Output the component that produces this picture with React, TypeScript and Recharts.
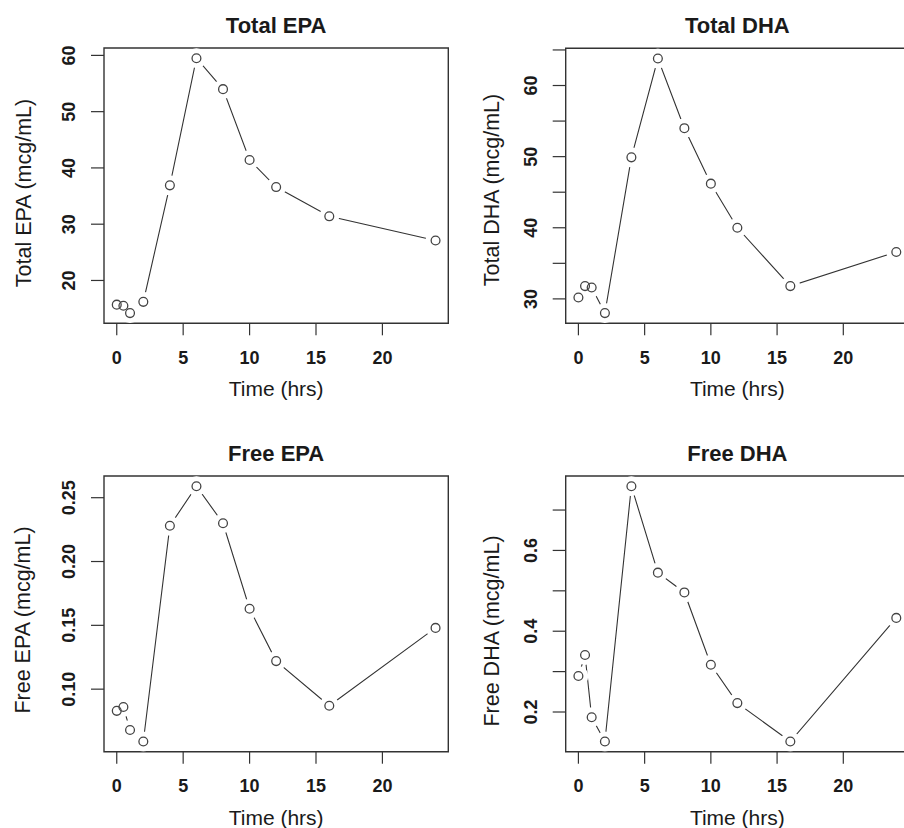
import { LineChart, Line, XAxis, YAxis, ReferenceArea } from 'recharts';

// sampling times (hrs)
const hours = [0, 0.5, 1, 2, 4, 6, 8, 10, 12, 16, 24];

// concentrations (mcg/mL)
const totalEPA = [15.7, 15.5, 14.2, 16.2, 36.9, 59.5, 54.0, 41.4, 36.6, 31.4, 27.1];
const totalDHA = [30.2, 31.8, 31.6, 28.0, 49.9, 63.8, 54.0, 46.2, 40.0, 31.8, 36.6];
const freeEPA = [0.083, 0.086, 0.068, 0.059, 0.228, 0.259, 0.23, 0.163, 0.122, 0.087, 0.148];
const freeDHA = [0.289, 0.341, 0.187, 0.127, 0.759, 0.545, 0.496, 0.317, 0.222, 0.127, 0.433];

// axis ticks
const xTicks = [0, 5, 10, 15, 20];
const totalEPATicks = [20, 30, 40, 50, 60];
const totalDHATicks = [30, 35, 40, 45, 50, 55, 60, 65];
const totalDHALabels = [30, 40, 50, 60];
const freeEPATicks = [0.1, 0.15, 0.2, 0.25];
const freeDHATicks = [0.2, 0.3, 0.4, 0.5, 0.6, 0.7];
const freeDHALabels = [0.2, 0.4, 0.6];

const FONT = '"Liberation Sans", Arial, Helvetica, sans-serif';
const INK = '#1a1a1a';
const X_DOMAIN: [number, number] = [-0.96, 24.96];

// R style: pad the data range by 4% on each side
const padded = (vals: number[]): [number, number] => {
  const lo = Math.min(...vals);
  const hi = Math.max(...vals);
  const d = (hi - lo) * 0.04;
  return [lo - d, hi + d];
};

interface PanelProps {
  title: string;
  yLabel: string;
  values: number[];
  yTicks: number[];
  yLabels: number[];
  digits: number;
  left: number;
  top: number;
  width: number;
  height: number;
  boxLeft: number;
  boxTop: number;
  boxRight: number;
  boxBottom: number;
  yTitleX: number;
  yTitleY: number;
}

const Panel = (p: PanelProps) => {
  const data = hours.map((t, i) => ({ t, v: p.values[i] }));
  const [y0, y1] = padded(p.values);
  const xh = 78;
  const margin = {
    top: p.boxTop,
    left: 0,
    right: p.width - p.boxRight,
    bottom: p.height - p.boxBottom - xh,
  };
  const boxCx = (p.boxLeft + p.boxRight) / 2;

  const yTick = (props: any) => {
    const { x, y, payload } = props;
    const val = payload.value;
    const show = p.yLabels.some((l) => Math.abs(l - val) < 1e-9);
    if (!show) return <g />;
    return (
      <text
        x={x}
        y={y}
        transform={`rotate(-90 ${x} ${y})`}
        textAnchor="middle"
        fontSize={18}
        fontWeight="bold"
        fontFamily={FONT}
        fill={INK}
      >
        {val.toFixed(p.digits)}
      </text>
    );
  };

  return (
    <div style={{ position: 'absolute', left: p.left, top: p.top }}>
      <LineChart width={p.width} height={p.height} data={data} margin={margin}>
        <XAxis
          type="number"
          dataKey="t"
          domain={X_DOMAIN}
          ticks={xTicks}
          allowDataOverflow
          axisLine={false}
          tickLine={{ stroke: '#333', strokeWidth: 1.2 }}
          tickSize={12}
          tickMargin={16}
          height={xh}
          tick={{ fontSize: 18, fontWeight: 'bold', fontFamily: FONT, fill: INK }}
          label={() => (
            <text
              x={boxCx}
              y={p.boxBottom + 73}
              textAnchor="middle"
              fontSize={21}
              fontFamily={FONT}
              fill={INK}
            >
              Time (hrs)
            </text>
          )}
        />
        <YAxis
          type="number"
          domain={[y0, y1]}
          ticks={p.yTicks}
          allowDataOverflow
          width={p.boxLeft}
          axisLine={false}
          tickLine={{ stroke: '#333', strokeWidth: 1.2 }}
          tickSize={13}
          tickMargin={16}
          tick={yTick}
          label={() => (
            <text
              x={p.yTitleX}
              y={p.yTitleY}
              transform={`rotate(-90 ${p.yTitleX} ${p.yTitleY})`}
              textAnchor="middle"
              fontSize={21.5}
              fontFamily={FONT}
              fill={INK}
            >
              {p.yLabel}
            </text>
          )}
        />
        {/* connecting line, with white discs that open a gap round each point */}
        <Line
          dataKey="v"
          stroke="#333"
          strokeWidth={1.1}
          isAnimationActive={false}
          activeDot={false}
          dot={(d: any) => (
            <circle key={`m-${d.index}`} cx={d.cx} cy={d.cy} r={10} fill="#fff" stroke="none" />
          )}
        />
        {/* open circles */}
        <Line
          dataKey="v"
          stroke="none"
          isAnimationActive={false}
          activeDot={false}
          dot={(d: any) => (
            <circle
              key={`c-${d.index}`}
              cx={d.cx}
              cy={d.cy}
              r={4.4}
              fill="none"
              stroke="#444"
              strokeWidth={1.3}
            />
          )}
        />
        <ReferenceArea
          x1={X_DOMAIN[0]}
          x2={X_DOMAIN[1]}
          y1={y0}
          y2={y1}
          fill="none"
          stroke="#333"
          strokeWidth={1.4}
          fillOpacity={0}
          ifOverflow="visible"
          label={{
            value: p.title,
            position: 'top',
            offset: 15.5,
            fontSize: 22,
            fontWeight: 'bold',
            fontFamily: FONT,
            fill: INK,
          }}
        />
      </LineChart>
    </div>
  );
};

export default function App() {
  return (
    <div
      style={{
        position: 'absolute',
        left: 0,
        top: 0,
        width: 904,
        height: 828,
        overflow: 'hidden',
        background: '#fff',
      }}
    >
      <Panel
        title="Total EPA"
        yLabel="Total EPA (mcg/mL)"
        values={totalEPA}
        yTicks={totalEPATicks}
        yLabels={totalEPATicks}
        digits={0}
        left={0}
        top={0}
        width={452}
        height={400}
        boxLeft={104}
        boxTop={48}
        boxRight={448.3}
        boxBottom={323.3}
        yTitleX={30.5}
        yTitleY={193}
      />
      <Panel
        title="Total DHA"
        yLabel="Total DHA (mcg/mL)"
        values={totalDHA}
        yTicks={totalDHATicks}
        yLabels={totalDHALabels}
        digits={0}
        left={452}
        top={0}
        width={460}
        height={400}
        boxLeft={113.7}
        boxTop={48.3}
        boxRight={457}
        boxBottom={323.3}
        yTitleX={46.7}
        yTitleY={190}
      />
      <Panel
        title="Free EPA"
        yLabel="Free EPA (mcg/mL)"
        values={freeEPA}
        yTicks={freeEPATicks}
        yLabels={freeEPATicks}
        digits={2}
        left={0}
        top={400}
        width={452}
        height={428}
        boxLeft={104}
        boxTop={76}
        boxRight={448.3}
        boxBottom={351.7}
        yTitleX={29.5}
        yTitleY={220}
      />
      <Panel
        title="Free DHA"
        yLabel="Free DHA (mcg/mL)"
        values={freeDHA}
        yTicks={freeDHATicks}
        yLabels={freeDHALabels}
        digits={1}
        left={452}
        top={400}
        width={460}
        height={428}
        boxLeft={113.7}
        boxTop={76}
        boxRight={457}
        boxBottom={351.7}
        yTitleX={46.7}
        yTitleY={231}
      />
    </div>
  );
}
